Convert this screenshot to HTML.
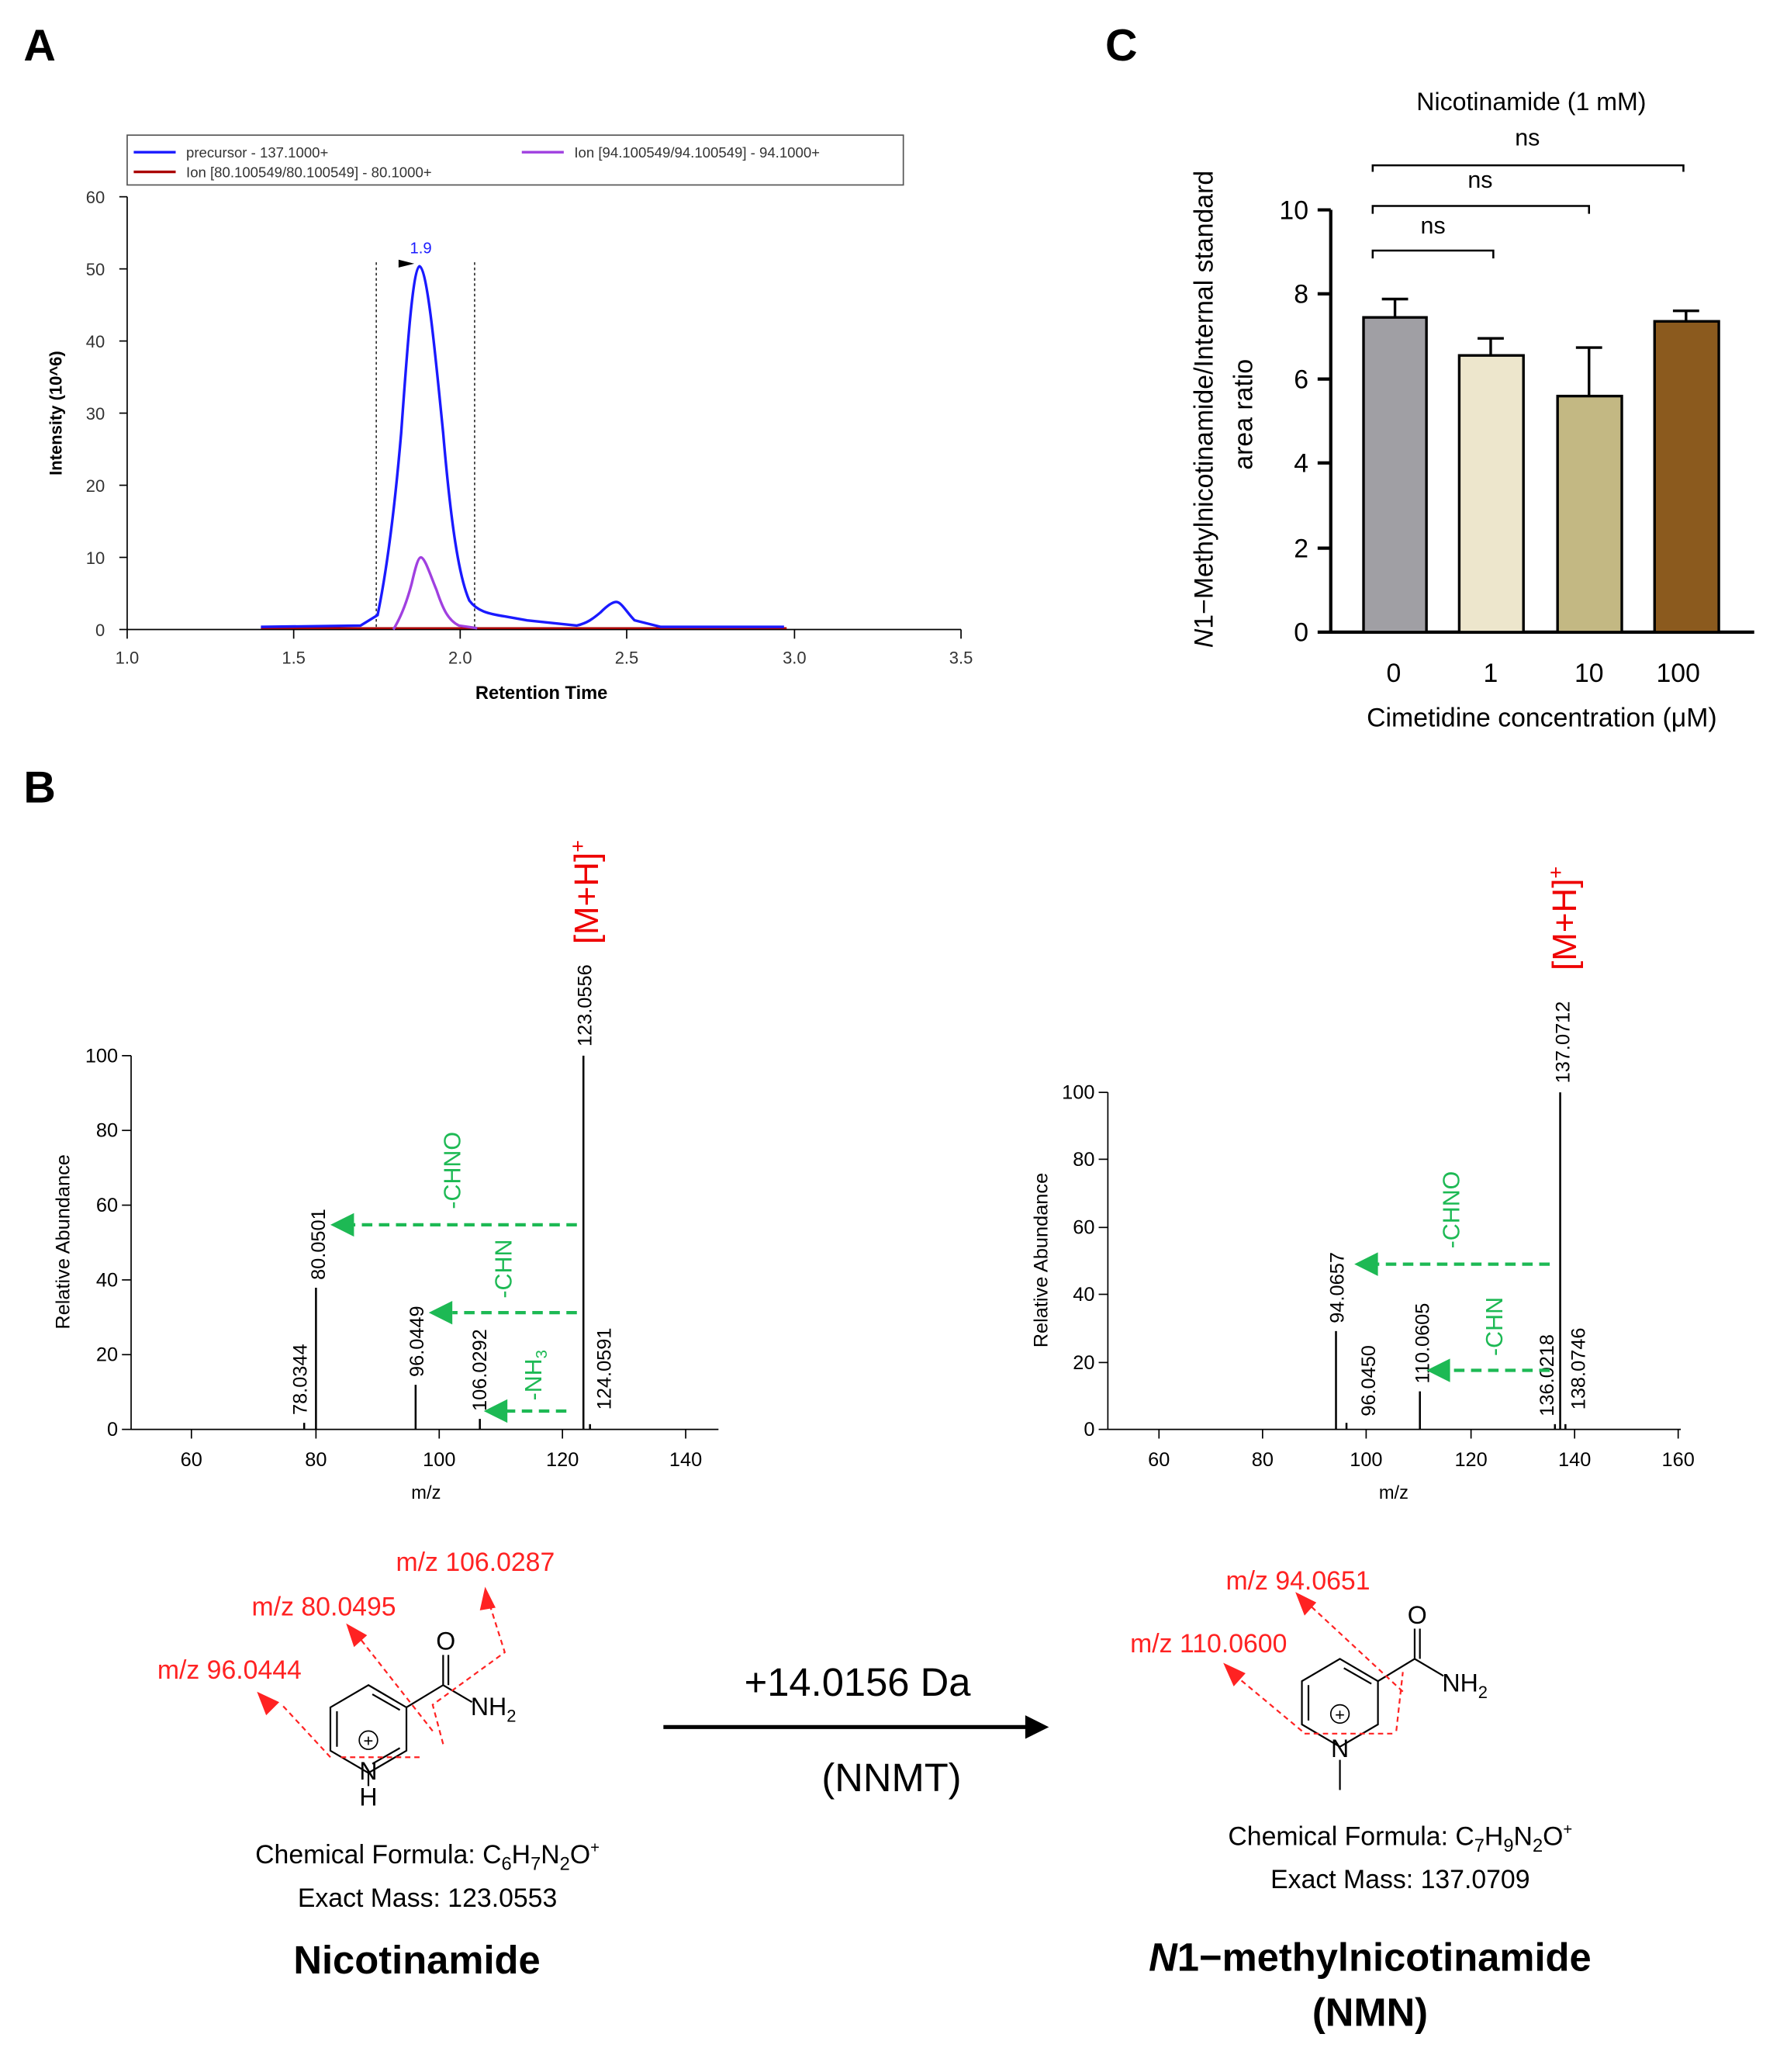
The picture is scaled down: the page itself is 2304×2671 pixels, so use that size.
<!DOCTYPE html>
<html><head><meta charset="utf-8"><style>html,body{margin:0;padding:0;background:#fff}svg{display:block}text{font-family:"Liberation Sans",Arial,sans-serif}</style></head><body>
<svg width="2304" height="2671" viewBox="0 0 1363 1580" xmlns="http://www.w3.org/2000/svg">
<!-- Panel letters -->
<text x="18" y="46" font-size="34" font-weight="bold">A</text>
<text x="843" y="46" font-size="34" font-weight="bold">C</text>
<text x="18" y="612" font-size="34" font-weight="bold">B</text>

<!-- Panel A -->
<g stroke="#000" stroke-width="1" fill="none">
<line x1="97" y1="150" x2="97" y2="480"/><line x1="97" y1="480" x2="733" y2="480"/>
</g>
<g font-size="13" fill="#333" text-anchor="end">
<text x="80" y="485">0</text><text x="80" y="430">10</text><text x="80" y="375">20</text><text x="80" y="320">30</text><text x="80" y="265">40</text><text x="80" y="210">50</text><text x="80" y="155">60</text>
</g>
<g stroke="#000" stroke-width="1">
<line x1="91" y1="480" x2="97" y2="480"/><line x1="91" y1="425" x2="97" y2="425"/><line x1="91" y1="370" x2="97" y2="370"/><line x1="91" y1="315" x2="97" y2="315"/><line x1="91" y1="260" x2="97" y2="260"/><line x1="91" y1="205" x2="97" y2="205"/><line x1="91" y1="150" x2="97" y2="150"/>
<line x1="97" y1="480" x2="97" y2="487"/><line x1="224" y1="480" x2="224" y2="487"/><line x1="351" y1="480" x2="351" y2="487"/><line x1="478" y1="480" x2="478" y2="487"/><line x1="606" y1="480" x2="606" y2="487"/><line x1="733" y1="480" x2="733" y2="487"/>
</g>
<g font-size="13" fill="#333" text-anchor="middle">
<text x="97" y="506">1.0</text><text x="224" y="506">1.5</text><text x="351" y="506">2.0</text><text x="478" y="506">2.5</text><text x="606" y="506">3.0</text><text x="733" y="506">3.5</text>
</g>
<text x="413" y="533" font-size="14" font-weight="bold" text-anchor="middle">Retention Time</text>
<text transform="translate(47,315) rotate(-90)" font-size="13" font-weight="bold" text-anchor="middle">Intensity (10^6)</text>
<rect x="97" y="103" width="592" height="38" fill="#fff" stroke="#555"/>
<line x1="102" y1="116" x2="134" y2="116" stroke="#1a1aff" stroke-width="2"/>
<text x="142" y="120" font-size="11" fill="#333">precursor - 137.1000+</text>
<line x1="102" y1="131" x2="134" y2="131" stroke="#a00" stroke-width="2"/>
<text x="142" y="135" font-size="11" fill="#333">Ion [80.100549/80.100549] - 80.1000+</text>
<line x1="398" y1="116" x2="430" y2="116" stroke="#a040e0" stroke-width="2"/>
<text x="438" y="120" font-size="11" fill="#333">Ion [94.100549/94.100549] - 94.1000+</text>
<line x1="287" y1="200" x2="287" y2="480" stroke="#333" stroke-dasharray="2,2"/>
<line x1="362" y1="200" x2="362" y2="480" stroke="#333" stroke-dasharray="2,2"/>
<path d="M199,479 L600,479" stroke="#a00" stroke-width="1.5" fill="none"/>
<path d="M300,480 C305,472 310,460 314,445 C317,432 319,425 321,425 C324,425 328,438 333,450 C338,465 342,473 350,477 L364,479" stroke="#a040e0" stroke-width="2" fill="none"/>
<path d="M199,478 L275,477 L288,469 C294,440 300,400 306,330 C311,260 315,205 320,203 C326,205 332,270 338,330 C344,400 350,440 358,458 C364,466 372,468 385,470 L402,473 L440,477 C448,475 452,472 458,467 C463,462 467,459 470,459 C474,459 478,467 484,473 L504,478 L598,478" stroke="#1a1aff" stroke-width="2" fill="none"/>
<text x="321" y="193" font-size="12" fill="#1a1aff" text-anchor="middle">1.9</text>
<polygon points="304,198 316,201 304,204" fill="#000"/>

<!-- Panel C -->
<text x="1168" y="84" font-size="19" text-anchor="middle">Nicotinamide (1 mM)</text>
<g stroke="#000" stroke-width="2.5" fill="none">
<line x1="1015" y1="160" x2="1015" y2="483"/><line x1="1014" y1="482" x2="1338" y2="482"/>
<line x1="1005" y1="482" x2="1015" y2="482"/><line x1="1005" y1="418" x2="1015" y2="418"/><line x1="1005" y1="353" x2="1015" y2="353"/><line x1="1005" y1="289" x2="1015" y2="289"/><line x1="1005" y1="224" x2="1015" y2="224"/><line x1="1005" y1="160" x2="1015" y2="160"/>
</g>
<g font-size="20" text-anchor="end">
<text x="998" y="489">0</text><text x="998" y="425">2</text><text x="998" y="360">4</text><text x="998" y="296">6</text><text x="998" y="231">8</text><text x="998" y="167">10</text>
</g>
<g stroke="#000" stroke-width="2">
<line x1="1064" y1="242" x2="1064" y2="228"/><line x1="1054" y1="228" x2="1074" y2="228"/>
<line x1="1137" y1="271" x2="1137" y2="258"/><line x1="1127" y1="258" x2="1147" y2="258"/>
<line x1="1212" y1="302" x2="1212" y2="265"/><line x1="1202" y1="265" x2="1222" y2="265"/>
<line x1="1286" y1="245" x2="1286" y2="237"/><line x1="1276" y1="237" x2="1296" y2="237"/>
</g>
<rect x="1040" y="242" width="48" height="240" fill="#a09fa4" stroke="#000" stroke-width="2"/>
<rect x="1113" y="271" width="49" height="211" fill="#ede6cc" stroke="#000" stroke-width="2"/>
<rect x="1188" y="302" width="49" height="180" fill="#c3b883" stroke="#000" stroke-width="2"/>
<rect x="1262" y="245" width="49" height="237" fill="#8b5a1e" stroke="#000" stroke-width="2"/>
<g font-size="20" text-anchor="middle">
<text x="1063" y="520">0</text><text x="1137" y="520">1</text><text x="1212" y="520">10</text><text x="1280" y="520">100</text>
</g>
<text x="1176" y="554" font-size="20" text-anchor="middle">Cimetidine concentration (μM)</text>
<text transform="translate(925,312) rotate(-90)" font-size="20" text-anchor="middle"><tspan font-style="italic">N</tspan>1−Methylnicotinamide/Internal standard</text>
<text transform="translate(955,316) rotate(-90)" font-size="20" text-anchor="middle">area ratio</text>
<g stroke="#000" stroke-width="1.5" fill="none">
<path d="M1047,197 V191 H1139 V197"/><path d="M1047,163 V157 H1212 V163"/><path d="M1047,131 V126 H1284 V131"/>
</g>
<g font-size="18" text-anchor="middle">
<text x="1093" y="178">ns</text><text x="1129" y="143">ns</text><text x="1165" y="111">ns</text>
</g>

<!-- Panel B left spectrum -->
<g stroke="#000" stroke-width="1" fill="none">
<line x1="100" y1="805" x2="100" y2="1090"/><line x1="100" y1="1090" x2="548" y2="1090"/>
</g>
<g stroke="#000">
<line x1="93" y1="1090" x2="100" y2="1090"/><line x1="93" y1="1033" x2="100" y2="1033"/><line x1="93" y1="976" x2="100" y2="976"/><line x1="93" y1="919" x2="100" y2="919"/><line x1="93" y1="862" x2="100" y2="862"/><line x1="93" y1="805" x2="100" y2="805"/>
<line x1="146" y1="1090" x2="146" y2="1097"/><line x1="241" y1="1090" x2="241" y2="1097"/><line x1="335" y1="1090" x2="335" y2="1097"/><line x1="429" y1="1090" x2="429" y2="1097"/><line x1="523" y1="1090" x2="523" y2="1097"/>
</g>
<g font-size="15" text-anchor="end">
<text x="90" y="1095">0</text><text x="90" y="1038">20</text><text x="90" y="981">40</text><text x="90" y="924">60</text><text x="90" y="867">80</text><text x="90" y="810">100</text>
</g>
<g font-size="15" text-anchor="middle">
<text x="146" y="1118">60</text><text x="241" y="1118">80</text><text x="335" y="1118">100</text><text x="429" y="1118">120</text><text x="523" y="1118">140</text>
<text x="325" y="1143" font-size="14">m/z</text>
</g>
<text transform="translate(53,947) rotate(-90)" font-size="15" text-anchor="middle">Relative Abundance</text>
<g stroke="#000" stroke-width="1.5">
<line x1="241" y1="1090" x2="241" y2="982"/><line x1="317" y1="1090" x2="317" y2="1056"/><line x1="445" y1="1090" x2="445" y2="805"/>
<line x1="232" y1="1090" x2="232" y2="1085"/><line x1="366" y1="1090" x2="366" y2="1082"/><line x1="450" y1="1090" x2="450" y2="1086"/>
</g>
<g font-size="15" fill="#000">
<text transform="translate(248,976) rotate(-90)">80.0501</text>
<text transform="translate(323,1050) rotate(-90)">96.0449</text>
<text transform="translate(451,798) rotate(-90)">123.0556</text>
<text transform="translate(234,1079) rotate(-90)">78.0344</text>
<text transform="translate(371,1076) rotate(-90)">106.0292</text>
<text transform="translate(466,1075) rotate(-90)">124.0591</text>
</g>
<text transform="translate(456,720) rotate(-90)" font-size="26" fill="#e00">[M+H]<tspan font-size="16" dy="-10">+</tspan></text>
<g stroke="#1db954" stroke-width="2.5" stroke-dasharray="8,5">
<line x1="440" y1="934" x2="268" y2="934"/><line x1="440" y1="1001" x2="345" y2="1001"/><line x1="432" y1="1076" x2="385" y2="1076"/>
</g>
<g fill="#1db954">
<polygon points="252,934 270,925 270,943"/><polygon points="327,1001 345,992 345,1010"/><polygon points="369,1076 387,1067 387,1085"/>
</g>
<g font-size="18" fill="#1db954">
<text transform="translate(351,922) rotate(-90)">-CHNO</text>
<text transform="translate(390,990) rotate(-90)">-CHN</text>
<text transform="translate(413,1068) rotate(-90)">-NH<tspan font-size="12" dy="4">3</tspan></text>
</g>

<!-- Panel B right spectrum -->
<g stroke="#000" stroke-width="1" fill="none">
<line x1="845" y1="833" x2="845" y2="1090"/><line x1="845" y1="1090" x2="1282" y2="1090"/>
</g>
<g stroke="#000">
<line x1="838" y1="1090" x2="845" y2="1090"/><line x1="838" y1="1039" x2="845" y2="1039"/><line x1="838" y1="987" x2="845" y2="987"/><line x1="838" y1="936" x2="845" y2="936"/><line x1="838" y1="884" x2="845" y2="884"/><line x1="838" y1="833" x2="845" y2="833"/>
<line x1="884" y1="1090" x2="884" y2="1097"/><line x1="963" y1="1090" x2="963" y2="1097"/><line x1="1042" y1="1090" x2="1042" y2="1097"/><line x1="1122" y1="1090" x2="1122" y2="1097"/><line x1="1201" y1="1090" x2="1201" y2="1097"/><line x1="1280" y1="1090" x2="1280" y2="1097"/>
</g>
<g font-size="15" text-anchor="end">
<text x="835" y="1095">0</text><text x="835" y="1044">20</text><text x="835" y="992">40</text><text x="835" y="941">60</text><text x="835" y="889">80</text><text x="835" y="838">100</text>
</g>
<g font-size="15" text-anchor="middle">
<text x="884" y="1118">60</text><text x="963" y="1118">80</text><text x="1042" y="1118">100</text><text x="1122" y="1118">120</text><text x="1201" y="1118">140</text><text x="1280" y="1118">160</text>
<text x="1063" y="1143" font-size="14">m/z</text>
</g>
<text transform="translate(799,961) rotate(-90)" font-size="15" text-anchor="middle">Relative Abundance</text>
<g stroke="#000" stroke-width="1.5">
<line x1="1019" y1="1090" x2="1019" y2="1015"/><line x1="1083" y1="1090" x2="1083" y2="1061"/><line x1="1190" y1="1090" x2="1190" y2="833"/>
<line x1="1027" y1="1090" x2="1027" y2="1085"/><line x1="1186" y1="1090" x2="1186" y2="1086"/><line x1="1194" y1="1090" x2="1194" y2="1086"/>
</g>
<g font-size="15">
<text transform="translate(1025,1009) rotate(-90)">94.0657</text>
<text transform="translate(1049,1080) rotate(-90)">96.0450</text>
<text transform="translate(1090,1055) rotate(-90)">110.0605</text>
<text transform="translate(1185,1080) rotate(-90)">136.0218</text>
<text transform="translate(1209,1075) rotate(-90)">138.0746</text>
<text transform="translate(1197,826) rotate(-90)">137.0712</text>
</g>
<text transform="translate(1202,740) rotate(-90)" font-size="26" fill="#e00">[M+H]<tspan font-size="16" dy="-10">+</tspan></text>
<g stroke="#1db954" stroke-width="2.5" stroke-dasharray="8,5">
<line x1="1182" y1="964" x2="1050" y2="964"/><line x1="1182" y1="1045" x2="1105" y2="1045"/>
</g>
<g fill="#1db954">
<polygon points="1033,964 1051,955 1051,973"/><polygon points="1088,1045 1106,1036 1106,1054"/>
</g>
<g font-size="18" fill="#1db954">
<text transform="translate(1113,952) rotate(-90)">-CHNO</text>
<text transform="translate(1146,1034) rotate(-90)">-CHN</text>
</g>

<!-- Structures left -->
<g stroke="#000" stroke-width="1.3" fill="none">
<path d="M281,1285 L310,1302 L310,1335 L281,1352 L252,1335 L252,1302 Z"/>
<path d="M284,1292 L305,1304 M257,1305 L257,1332 M305,1333 L284,1345"/>
<path d="M310,1302 L338,1285 L360,1298 M338,1285 L338,1262 M342,1285 L342,1262"/>
<line x1="281" y1="1352" x2="281" y2="1362"/>
</g>
<circle cx="281" cy="1327" r="7" fill="none" stroke="#000"/><text x="281" y="1332" font-size="13" text-anchor="middle">+</text>
<text x="340" y="1258" font-size="19" text-anchor="middle">O</text>
<text x="359" y="1308" font-size="19">NH<tspan font-size="13" dy="5">2</tspan></text>
<text x="281" y="1357" font-size="19" text-anchor="middle">N</text>
<text x="281" y="1377" font-size="19" text-anchor="middle">H</text>
<g stroke="#f22" stroke-width="1.3" fill="none" stroke-dasharray="4,3">
<path d="M252,1340 L215,1300"/><path d="M330,1320 L275,1250"/><path d="M338,1330 L330,1300 L385,1260 L373,1222"/><path d="M260,1340 L320,1340"/>
</g>
<g fill="#f22"><polygon points="196,1290 213,1298 203,1308"/><polygon points="264,1238 280,1247 270,1256"/><polygon points="370,1210 378,1226 366,1228"/></g>
<g font-size="20" fill="#f22">
<text x="120" y="1280">m/z 96.0444</text><text x="192" y="1232">m/z 80.0495</text><text x="302" y="1198">m/z 106.0287</text>
</g>
<text x="326" y="1421" font-size="20" text-anchor="middle">Chemical Formula: C<tspan font-size="14" dy="5">6</tspan><tspan dy="-5">H</tspan><tspan font-size="14" dy="5">7</tspan><tspan dy="-5">N</tspan><tspan font-size="14" dy="5">2</tspan><tspan dy="-5">O</tspan><tspan font-size="12" dy="-8">+</tspan></text>
<text x="326" y="1454" font-size="20" text-anchor="middle">Exact Mass: 123.0553</text>
<text x="318" y="1505" font-size="30" font-weight="bold" text-anchor="middle">Nicotinamide</text>

<!-- arrow -->
<line x1="506" y1="1317" x2="785" y2="1317" stroke="#000" stroke-width="3"/>
<polygon points="800,1317 782,1308 782,1326" fill="#000"/>
<text x="654" y="1293" font-size="30" text-anchor="middle">+14.0156 Da</text>
<text x="680" y="1366" font-size="30" text-anchor="middle">(NNMT)</text>

<!-- Structures right -->
<g stroke="#000" stroke-width="1.3" fill="none">
<path d="M1022,1265 L1051,1282 L1051,1315 L1022,1332 L993,1315 L993,1282 Z"/>
<path d="M1025,1272 L1046,1284 M998,1285 L998,1312"/>
<path d="M1051,1282 L1079,1265 L1101,1278 M1079,1265 L1079,1242 M1083,1265 L1083,1242"/>
<line x1="1022" y1="1342" x2="1022" y2="1365"/>
</g>
<circle cx="1022" cy="1307" r="7" fill="none" stroke="#000"/><text x="1022" y="1312" font-size="13" text-anchor="middle">+</text>
<text x="1081" y="1238" font-size="19" text-anchor="middle">O</text>
<text x="1100" y="1290" font-size="19">NH<tspan font-size="13" dy="5">2</tspan></text>
<text x="1022" y="1340" font-size="19" text-anchor="middle">N</text>
<g stroke="#f22" stroke-width="1.3" fill="none" stroke-dasharray="4,3">
<path d="M993,1320 L945,1280"/><path d="M1070,1290 L1000,1225"/><path d="M1065,1320 L1070,1275"/><path d="M995,1322 L1065,1322"/>
</g>
<g fill="#f22"><polygon points="933,1268 950,1276 941,1286"/><polygon points="988,1214 1004,1222 995,1232"/></g>
<g font-size="20" fill="#f22">
<text x="935" y="1212">m/z 94.0651</text><text x="862" y="1260">m/z 110.0600</text>
</g>
<text x="1068" y="1407" font-size="20" text-anchor="middle">Chemical Formula: C<tspan font-size="14" dy="5">7</tspan><tspan dy="-5">H</tspan><tspan font-size="14" dy="5">9</tspan><tspan dy="-5">N</tspan><tspan font-size="14" dy="5">2</tspan><tspan dy="-5">O</tspan><tspan font-size="12" dy="-8">+</tspan></text>
<text x="1068" y="1440" font-size="20" text-anchor="middle">Exact Mass: 137.0709</text>
<text x="1045" y="1503" font-size="30" font-weight="bold" text-anchor="middle"><tspan font-style="italic">N</tspan>1−methylnicotinamide</text>
<text x="1045" y="1545" font-size="30" font-weight="bold" text-anchor="middle">(NMN)</text>
</svg>
</body></html>
